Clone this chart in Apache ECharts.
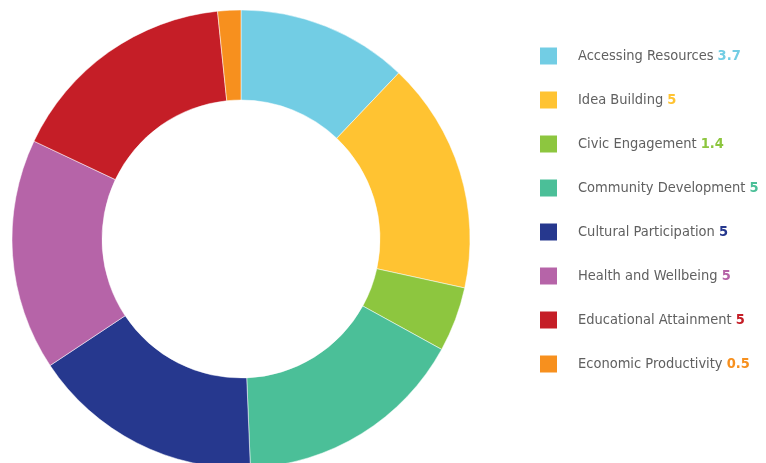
<!DOCTYPE html>
<html><head><meta charset="utf-8">
<script src="https://cdn.jsdelivr.net/npm/echarts@6/dist/echarts.min.js"></script>
<style>html,body{margin:0;padding:0;background:#fff}#c{width:766px;height:463px}</style>
</head><body><div id="c"></div>
<script>
const categories = ["Accessing Resources","Idea Building","Civic Engagement","Community Development","Cultural Participation","Health and Wellbeing","Educational Attainment","Economic Productivity"];
const values = [3.7, 5, 1.4, 5, 5, 5, 5, 0.5];
const colors = ["#72CDE4","#FFC332","#8DC63F","#4BBF98","#26388E","#B664A8","#C51E27","#F7901E"];
const font = "'DejaVu Sans Condensed','Liberation Sans Narrow',sans-serif";
const rich = {n:{color:'#606060',fontSize:14.5,fontFamily:font,height:20}};
colors.forEach((c,i)=>{rich['v'+i]={color:c,fontSize:14.5,fontWeight:'bold',fontFamily:font,height:20};});
const chart = echarts.init(document.getElementById('c'));
chart.setOption({
  animation:false,
  color:colors,
  legend:{
    orient:'vertical', left:538, top:45.5, padding:0,
    itemWidth:19, itemHeight:19, itemGap:23,
    icon:'rect',
    formatter:function(name){const i=categories.indexOf(name);return '{n|'+name+'} {v'+i+'|'+values[i]+'}';},
    textStyle:{fontSize:14.5,fontFamily:font,padding:[0,0,0,15],rich:rich}
  },
  series:[{
    type:'pie', center:[241,239], radius:[139,229], startAngle:90, clockwise:true,
    label:{show:false}, labelLine:{show:false},
    itemStyle:{borderColor:'#fff',borderWidth:0.5},
    data:categories.map((n,i)=>({name:n,value:values[i]}))
  }]
});
</script></body></html>
